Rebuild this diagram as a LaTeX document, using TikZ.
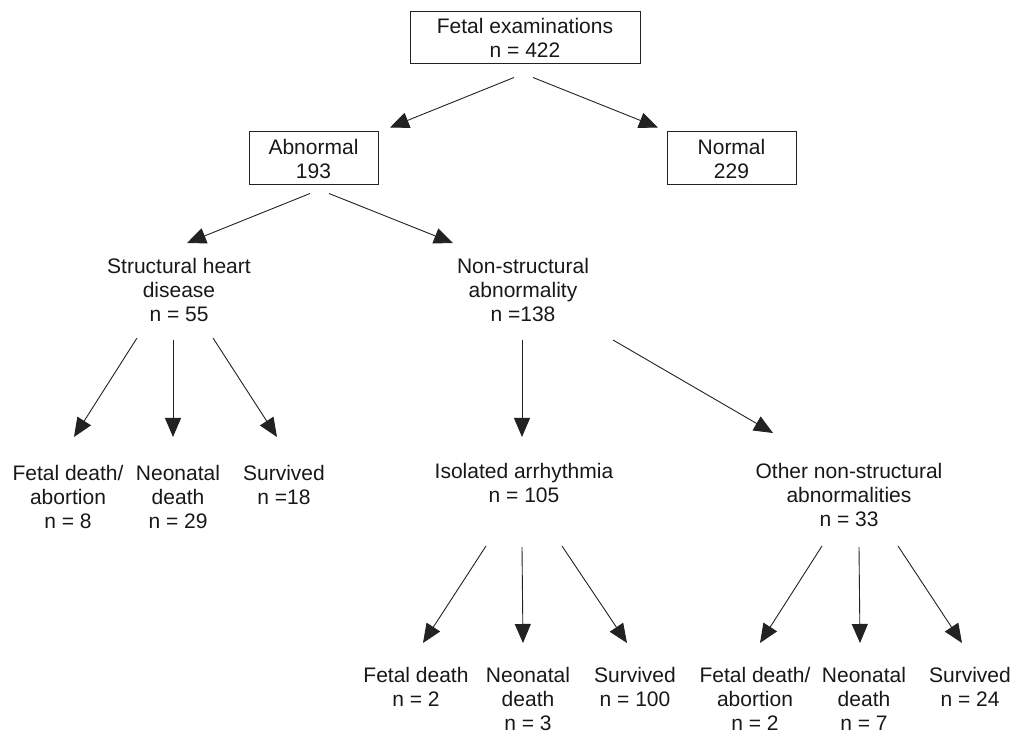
\documentclass[tikz,border=0pt]{standalone}
\usepackage{fontspec}
\setmainfont{Liberation Sans}
\usetikzlibrary{arrows.meta,calc}
\definecolor{ink}{HTML}{1A1718}
\definecolor{wire}{HTML}{222222}
\begin{document}
\begin{tikzpicture}[x=1pt,y=-1pt,
  every node/.style={font=\fontsize{21}{24}\selectfont, text=ink, align=center, inner sep=0pt},
  box/.style={draw=wire, line width=1pt, minimum width=#1},
  lbl/.style={anchor=north},
  arr/.style={draw=wire, line width=0.9pt, -{Triangle[length=19pt,width=16pt]}}]
\useasboundingbox (0,0) rectangle (1021,735);
% boxes
\node[box=230, minimum height=52] (top) at (525,38) {Fetal examinations\\n = 422};
\node[box=129, minimum height=53] (abn) at (313.5,158.5) {Abnormal\\193};
\node[box=129, minimum height=53] (nor) at (731.5,158.5) {Normal\\229};
% second level
\node[lbl] (shd) at (179,258.5) {Structural heart\\disease\\n = 55};
\node[lbl] (nsa) at (523,258.5) {Non-structural\\abnormality\\n =138};
% third level
\node[lbl] (sf) at (68,465.5) {Fetal death/\\abortion\\n = 8};
\node[lbl] (sn) at (178,465.5) {Neonatal\\death\\n = 29};
\node[lbl] (ss) at (284,465.5) {Survived\\n =18};
\node[lbl] (iso) at (524,463.5) {Isolated arrhythmia\\n = 105};
\node[lbl] (oth) at (849,463.5) {Other non-structural\\abnormalities\\n = 33};
% fourth level
\node[lbl] (if) at (416,667.5) {Fetal death\\n = 2};
\node[lbl] (in) at (528,667.5) {Neonatal\\death\\n = 3};
\node[lbl] (is) at (635,667.5) {Survived\\n = 100};
\node[lbl] (of) at (755,667.5) {Fetal death/\\abortion\\n = 2};
\node[lbl] (on) at (864,667.5) {Neonatal\\death\\n = 7};
\node[lbl] (os) at (970,667.5) {Survived\\n = 24};
% connectors
\draw[arr] ($(top.south)+(-11,13)$) -- ($(abn.north)+(76.5,-4)$);
\draw[arr] ($(top.south)+(8,13)$) -- ($(nor.north)+(-73.5,-4)$);
\draw[arr] ($(abn.south)+(-3.5,8)$) -- ($(shd.north)+(8,-15.5)$);
\draw[arr] ($(abn.south)+(15.5,8)$) -- ($(nsa.north)+(-70,-15.5)$);
\draw[arr] ($(shd.north)+(-42,79.5)$) -- ($(sf.north)+(6,-28.5)$);
\draw[arr] ($(shd.north)+(-6,81.5)$) -- ($(sn.north)+(-5,-28.5)$);
\draw[arr] ($(shd.north)+(34,79.5)$) -- ($(ss.north)+(-7,-28.5)$);
\draw[arr] ($(nsa.north)+(-1,81.5)$) -- ($(iso.north)+(-2,-26.5)$);
\draw[arr] ($(nsa.north)+(90,81.5)$) -- ($(oth.north)+(-76,-30.5)$);
\draw[arr] ($(iso.north)+(-38,82.5)$) -- ($(if.north)+(7,-24.5)$);
\draw[arr] ($(iso.north)+(-2,83.5)$) -- ($(in.north)+(-5,-24.5)$);
\draw[arr] ($(iso.north)+(38,82.5)$) -- ($(is.north)+(-8,-24.5)$);
\draw[arr] ($(oth.north)+(-27,82.5)$) -- ($(of.north)+(5,-24.5)$);
\draw[arr] ($(oth.north)+(10,83.5)$) -- ($(on.north)+(-4,-24.5)$);
\draw[arr] ($(oth.north)+(49,82.5)$) -- ($(os.north)+(-8,-24.5)$);
\end{tikzpicture}
\end{document}
